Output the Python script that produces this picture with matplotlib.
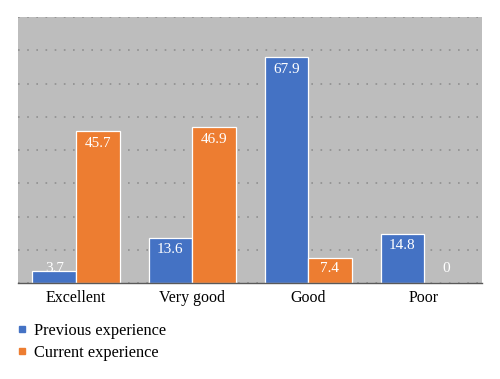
import matplotlib

matplotlib.use("Agg")
import matplotlib.pyplot as plt
import numpy as np
from matplotlib.lines import Line2D

categories = ["Excellent", "Very good", "Good", "Poor"]
previous = [3.7, 13.6, 67.9, 14.8]
current = [45.7, 46.9, 7.4, 0]
series_names = ["Previous experience", "Current experience"]

BLUE = "#4472C4"
ORANGE = "#ED7D31"
BG = "#BDBDBD"

plt.rcParams["font.family"] = ["Liberation Serif", "DejaVu Serif"]

fig = plt.figure(figsize=(5.0, 3.79), dpi=100)
ax = fig.add_axes([18 / 500, 1 - 283 / 379, 464 / 500, 266 / 379])
ax.set_facecolor(BG)

x = np.arange(len(categories))
width = 0.375
bars_prev = ax.bar(x - width / 2, previous, width, color=BLUE, edgecolor="white", linewidth=0.9, zorder=3)
bars_cur = ax.bar(x + width / 2, current, width, color=ORANGE, edgecolor="white", linewidth=0.9, zorder=3)

for bars, values in ((bars_prev, previous), (bars_cur, current)):
    for bar, value in zip(bars, values):
        label_y = max(value - 3.6, 4.5)
        ax.text(
            bar.get_x() + bar.get_width() / 2,
            label_y,
            f"{value:g}",
            ha="center",
            va="center",
            color="white",
            fontsize=11,
            zorder=4,
        )

ax.set_xlim(-0.5, len(categories) - 0.5)
ax.set_ylim(0, 80)
ax.set_yticks(np.arange(0, 81, 10))
ax.yaxis.grid(True, linestyle=(0, (1, 4.5)), color="#8f8f8f", linewidth=1.2, zorder=0)
ax.set_axisbelow(True)
ax.tick_params(axis="y", left=False, labelleft=False)
ax.tick_params(axis="x", length=0, pad=5, labelsize=11.5)
ax.set_xticks(x)
ax.set_xticklabels(categories)

for side in ("top", "left", "right"):
    ax.spines[side].set_visible(False)
ax.spines["bottom"].set_color("#595959")
ax.spines["bottom"].set_linewidth(1.0)
ax.spines["bottom"].set_zorder(5)

handles = [
    Line2D([], [], marker="s", linestyle="none", markersize=4, color=BLUE),
    Line2D([], [], marker="s", linestyle="none", markersize=4, color=ORANGE),
]
fig.legend(
    handles,
    series_names,
    loc="upper left",
    bbox_to_anchor=(15 / 500, 1 - 323 / 379),
    frameon=False,
    fontsize=11.8,
    handlelength=0.8,
    handletextpad=0.35,
    labelspacing=0.35,
    borderpad=0,
    borderaxespad=0,
)

fig.savefig("out.png", dpi=100)
